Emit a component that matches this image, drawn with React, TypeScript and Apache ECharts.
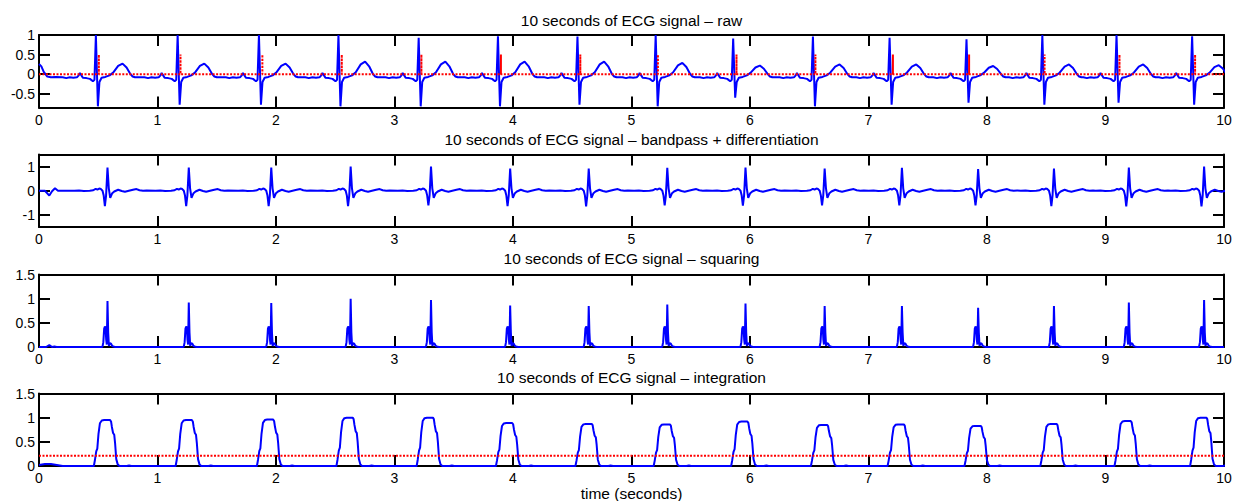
import React, { useEffect, useRef } from "react";
import * as echarts from "echarts";

// ---------- data ----------
const panelTitles = [
  "10 seconds of ECG signal \u2013 raw",
  "10 seconds of ECG signal \u2013 bandpass + differentiation",
  "10 seconds of ECG signal \u2013 squaring",
  "10 seconds of ECG signal \u2013 integration",
];
const xLabel = "time (seconds)";
const xTicks = [0, 1, 2, 3, 4, 5, 6, 7, 8, 9, 10];
const yTicksRaw = [-0.5, 0, 0.5, 1];
const yTicksBp = [-1, 0, 1];
const yTicksSq = [0, 0.5, 1, 1.5];
const yTicksInt = [0, 0.5, 1, 1.5];
const yRangeRaw = [-0.85, 1];
const yRangeBp = [-1.5, 1.5];
const yRangeSq = [0, 1.5];
const yRangeInt = [0, 1.5];

// raw ECG: R-peak times and per-beat amplitudes
const rawRTimes = [0.48, 1.17, 1.856, 2.527, 3.204, 3.873, 4.544, 5.204, 5.858, 6.531, 7.178, 7.827, 8.467, 9.093, 9.731];
const rawRAmp = [1.0, 1.0, 1.0, 1.0, 0.93, 0.97, 0.96, 1.0, 0.91, 0.96, 0.93, 0.89, 1.0, 1.0, 0.97];
const rawSAmp = [-0.82, -0.78, -0.78, -0.82, -0.82, -0.82, -0.78, -0.82, -0.6, -0.82, -0.78, -0.73, -0.78, -0.73, -0.78];
const rawTAmp = [0.27, 0.27, 0.27, 0.32, 0.32, 0.32, 0.32, 0.29, 0.22, 0.25, 0.25, 0.21, 0.25, 0.25, 0.23];
// one beat of the raw trace, relative to its R peak (b = absolute, r/s/t = fraction of that beat's amplitude)
const rawShapeDt = [-0.28, -0.25, -0.22, -0.19, -0.16, -0.145, -0.135, -0.122, -0.11, -0.08, -0.05, -0.025, -0.012, 0, 0.017, 0.03, 0.048, 0.08, 0.115, 0.146, 0.188, 0.225, 0.259, 0.292, 0.31, 0.33];
const rawShapeVal = [-0.08, -0.1, -0.08, -0.09, -0.08, -0.03, 0.03, -0.03, -0.09, -0.1, -0.12, -0.18, -0.14, 1, 1, -0.2, -0.09, -0.07, -0.03, 0.15, 0.78, 1.0, 0.63, 0.0, -0.06, -0.08];
const rawShapeRole = ["b", "b", "b", "b", "b", "b", "b", "b", "b", "b", "b", "b", "b", "r", "s", "b", "b", "b", "b", "t", "t", "t", "t", "t", "b", "b"];
const rawLeadT = [0, 0.02, 0.04, 0.07, 0.1, 0.14];
const rawLeadV = [0.26, 0.2, 0.06, -0.06, -0.08, -0.07];
// red QRS detection marks on the raw panel
const qrsMarkTimes = [0.505, 1.194, 1.885, 2.555, 3.227, 3.898, 4.568, 5.223, 5.886, 6.552, 7.206, 7.849, 8.486, 9.118, 9.756];
const qrsMarkHeight = 0.5;

// bandpass + differentiation
const bpPeakTimes = [0.578, 1.264, 1.96, 2.63, 3.308, 3.976, 4.639, 5.302, 5.962, 6.63, 7.282, 7.925, 8.565, 9.197, 9.832];
const bpPosAmp = [0.96, 0.96, 0.96, 1.0, 1.0, 0.92, 0.92, 0.95, 0.96, 0.92, 0.95, 0.9, 0.92, 0.96, 1.0];
const bpNegAmp = [-0.64, -0.64, -0.64, -0.64, -0.61, -0.64, -0.65, -0.61, -0.62, -0.61, -0.61, -0.61, -0.64, -0.65, -0.65];
const bpShapeDt = [-0.28, -0.24, -0.2, -0.15, -0.12, -0.1, -0.085, -0.07, -0.055, -0.042, -0.032, -0.022, -0.012, 0, 0.011, 0.023, 0.04, 0.057, 0.09, 0.12, 0.147, 0.18, 0.215, 0.245, 0.27, 0.3, 0.33];
const bpShapeVal = [0.0, 0.01, -0.01, 0.0, 0.02, 0.08, 0.05, 0.09, 0.07, 0.0, -0.2, 1, -0.2, 1, 0.1, -0.29, -0.1, -0.03, 0.04, -0.01, -0.04, 0.0, 0.04, 0.07, 0.02, 0.0, 0.01];
const bpShapeRole = ["b", "b", "b", "b", "b", "b", "b", "b", "b", "b", "b", "n", "b", "p", "b", "b", "b", "b", "b", "b", "b", "b", "b", "b", "b", "b", "b"];
const bpLeadT = [0, 0.05, 0.087, 0.11, 0.135, 0.16, 0.2];
const bpLeadV = [0, 0, -0.2, -0.02, 0.1, 0.0, 0.0];

// squaring
const sqPeakAmp = [0.95, 0.92, 0.91, 1.0, 0.97, 0.86, 0.85, 0.88, 0.9, 0.85, 0.85, 0.81, 0.85, 0.92, 0.97];
const sqShapeDt = [-0.05, -0.042, -0.035, -0.028, -0.022, -0.016, -0.011, -0.006, 0, 0.006, 0.012, 0.02, 0.03, 0.04, 0.05, 0.065];
const sqShapeVal = [0, 0.01, 0.1, 0.38, 0.42, 0.4, 0.15, 0.05, 1, 0.3, 0.02, 0.08, 0.07, 0.02, 0.01, 0];
const sqShapeRole = ["b", "b", "b", "b", "b", "b", "b", "b", "p", "b", "b", "b", "b", "b", "b", "b"];
const sqLeadT = [0, 0.06, 0.087, 0.11, 0.13, 0.15];
const sqLeadV = [0, 0, 0.04, 0, 0.01, 0];
const sqTailT = [10];
const sqTailV = [0];

// integration (pulses aligned with the raw R peaks)
const intPlateau = [0.95, 0.95, 0.96, 1.0, 1.0, 0.89, 0.87, 0.86, 0.92, 0.85, 0.86, 0.83, 0.87, 0.93, 1.0];
const intShapeDt = [-0.05, -0.017, -0.008, 0.003, 0.012, 0.022, 0.034, 0.05, 0.07, 0.12, 0.128, 0.135, 0.145, 0.155, 0.162, 0.172, 0.185, 0.2, 0.26, 0.28, 0.3];
const intShapeVal = [0, 0, 0.13, 0.32, 0.38, 0.7, 0.93, 0.99, 1.0, 1.0, 0.97, 0.85, 0.72, 0.68, 0.5, 0.15, 0.03, 0.0, 0.0, 0.01, 0.0];
const intLeadT = [0, 0.05, 0.1, 0.15, 0.2];
const intLeadV = [0.02, 0.04, 0.04, 0.02, 0.0];
const intThreshold = 0.21;

// ---------- helpers ----------
type Pt = [number, number];

function zipPts(ts: number[], vs: number[]): Pt[] {
  return ts.map((t, i) => [t, vs[i]] as Pt);
}

function buildTrace(
  lead: Pt[],
  times: number[],
  dts: number[],
  vals: number[],
  roles: string[] | null,
  amps: Record<string, number[]>,
  tail: Pt[] = []
): Pt[] {
  const pts: Pt[] = lead.slice();
  times.forEach((t, i) => {
    dts.forEach((dt, j) => {
      const role = roles ? roles[j] : "p";
      const v = role === "b" ? vals[j] : vals[j] * amps[role][i];
      pts.push([+(t + dt).toFixed(4), v]);
    });
  });
  return pts.concat(tail);
}

const rawTrace = buildTrace(zipPts(rawLeadT, rawLeadV), rawRTimes, rawShapeDt, rawShapeVal, rawShapeRole, {
  r: rawRAmp,
  s: rawSAmp,
  t: rawTAmp,
});

const qrsTrace: Pt[] = (() => {
  const pts: Pt[] = [[0, 0]];
  qrsMarkTimes.forEach((t) => {
    pts.push([t, 0], [t, qrsMarkHeight], [t, 0]);
  });
  pts.push([10, 0]);
  return pts;
})();

const bpTrace = buildTrace(zipPts(bpLeadT, bpLeadV), bpPeakTimes, bpShapeDt, bpShapeVal, bpShapeRole, {
  p: bpPosAmp,
  n: bpNegAmp,
});
const sqTrace = buildTrace(zipPts(sqLeadT, sqLeadV), bpPeakTimes, sqShapeDt, sqShapeVal, sqShapeRole, { p: sqPeakAmp }, zipPts(sqTailT, sqTailV));
const intTrace = buildTrace(zipPts(intLeadT, intLeadV), rawRTimes, intShapeDt, intShapeVal, null, { p: intPlateau });
const thrTrace: Pt[] = [
  [0, intThreshold],
  [10, intThreshold],
];

// ---------- chart ----------
const FONT = '"Liberation Sans", Arial, Helvetica, sans-serif';
const W = 1235;
const H = 501;
const GRID_LEFT = 39;
const GRID_RIGHT = 11;
const GRID_TOPS = [35, 154.5, 274.5, 393.5];
const GRID_H = 72.5;
const TITLE_Y = [20, 139, 258, 377];

export default function App() {
  const ref = useRef<HTMLDivElement>(null);

  useEffect(() => {
    document.body.style.margin = "0";
    if (!ref.current) return;
    const chart = echarts.init(ref.current, undefined, { renderer: "svg", width: W, height: H });

    const yRanges = [yRangeRaw, yRangeBp, yRangeSq, yRangeInt];
    const yTicks = [yTicksRaw, yTicksBp, yTicksSq, yTicksInt];

    const axisLine = { show: true, onZero: false, lineStyle: { color: "#000", width: 2 } };
    const tick = (vals: number[]) => ({
      show: true,
      inside: true,
      length: 11,
      lineStyle: { color: "#000", width: 2 },
      customValues: vals,
    });
    const labelStyle = { color: "#000", fontSize: 14, fontFamily: FONT };

    const grids = GRID_TOPS.map((top) => ({ left: GRID_LEFT, right: GRID_RIGHT, top, height: GRID_H, containLabel: false }));
    const xAxes: any[] = [];
    const yAxes: any[] = [];
    GRID_TOPS.forEach((_, i) => {
      xAxes.push({
        type: "value",
        gridIndex: i,
        position: "bottom",
        min: 0,
        max: 10,
        axisLine,
        axisTick: tick(xTicks),
        axisLabel: { ...labelStyle, margin: 5, customValues: xTicks },
        splitLine: { show: false },
      });
      xAxes.push({
        type: "value",
        gridIndex: i,
        position: "top",
        min: 0,
        max: 10,
        axisLine,
        axisTick: tick(xTicks),
        axisLabel: { show: false },
        splitLine: { show: false },
      });
      yAxes.push({
        type: "value",
        gridIndex: i,
        position: "left",
        min: yRanges[i][0],
        max: yRanges[i][1],
        axisLine,
        axisTick: tick(yTicks[i]),
        axisLabel: { ...labelStyle, margin: 4, customValues: yTicks[i] },
        splitLine: { show: false },
      });
      yAxes.push({
        type: "value",
        gridIndex: i,
        position: "right",
        min: yRanges[i][0],
        max: yRanges[i][1],
        axisLine,
        axisTick: tick(yTicks[i]),
        axisLabel: { show: false },
        splitLine: { show: false },
      });
    });

    const blue = (data: Pt[], i: number) => ({
      type: "line",
      xAxisIndex: 2 * i,
      yAxisIndex: 2 * i,
      data,
      showSymbol: false,
      symbol: "none",
      clip: true,
      lineStyle: { color: "#0000ff", width: 2 },
      z: 2,
    });
    const red = (data: Pt[], i: number) => ({
      type: "line",
      xAxisIndex: 2 * i,
      yAxisIndex: 2 * i,
      data,
      showSymbol: false,
      symbol: "none",
      clip: true,
      lineStyle: { color: "#ff0000", width: 2, type: [2, 1.5] },
      z: 3,
    });

    const cx = (GRID_LEFT + (W - GRID_RIGHT)) / 2;
    const graphics: any[] = panelTitles.map((t, i) => ({
      type: "text",
      x: cx,
      y: TITLE_Y[i],
      style: { text: t, fill: "#000", fontSize: 15.5, fontFamily: FONT, align: "center", verticalAlign: "middle" },
    }));
    graphics.push({
      type: "text",
      x: cx,
      y: 493,
      style: { text: xLabel, fill: "#000", fontSize: 15.5, fontFamily: FONT, align: "center", verticalAlign: "middle" },
    });

    chart.setOption({
      animation: false,
      backgroundColor: "#fff",
      grid: grids,
      xAxis: xAxes,
      yAxis: yAxes,
      series: [
        blue(rawTrace, 0),
        red(qrsTrace, 0),
        blue(bpTrace, 1),
        blue(sqTrace, 2),
        blue(intTrace, 3),
        red(thrTrace, 3),
      ],
      graphic: graphics,
    });

    return () => chart.dispose();
  }, []);

  return <div ref={ref} style={{ width: W, height: H }} />;
}
